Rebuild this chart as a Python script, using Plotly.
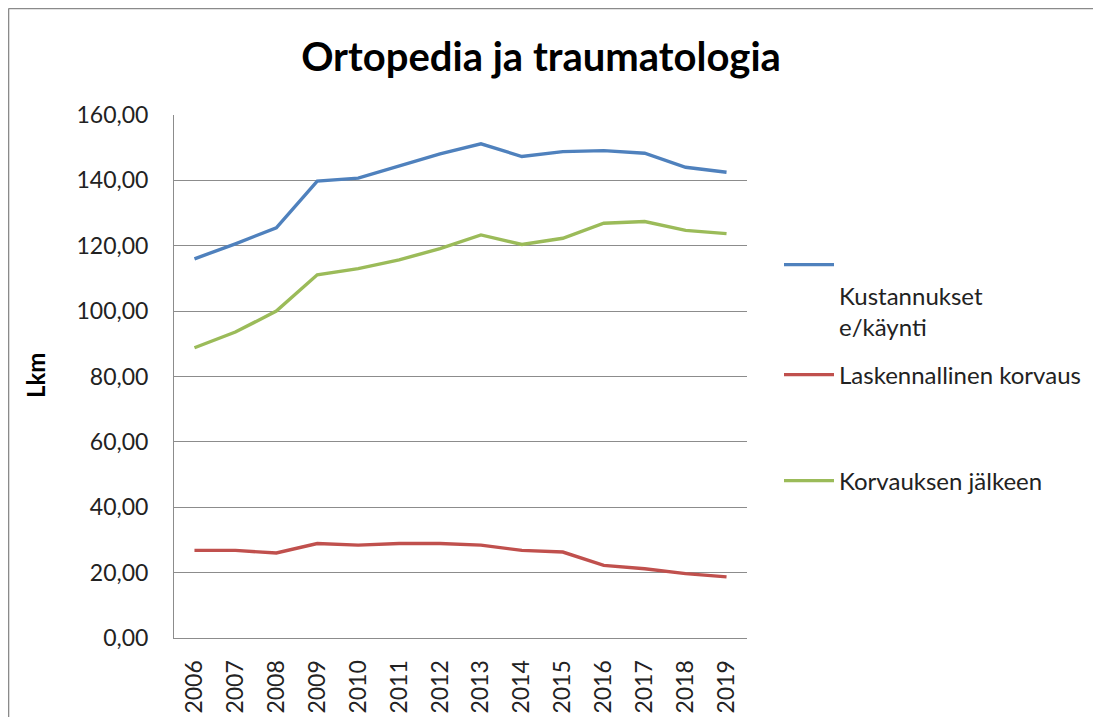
import plotly.graph_objects as go

years = [str(y) for y in range(2006, 2020)]
kustannukset = [116.0, 120.6, 125.5, 139.8, 140.7, 144.3, 148.1, 151.2, 147.3, 148.8, 149.1, 148.3, 144.0, 142.5]
laskennallinen = [26.8, 26.8, 26.0, 28.9, 28.4, 28.9, 28.9, 28.4, 26.8, 26.3, 22.2, 21.2, 19.7, 18.7]
jalkeen = [88.8, 93.6, 100.0, 111.1, 113.0, 115.7, 119.1, 123.3, 120.4, 122.3, 126.9, 127.4, 124.7, 123.7]

names = ["<br>Kustannukset<br>e/käynti", "Laskennallinen korvaus", "Korvauksen jälkeen"]
colors = ["#4F81BD", "#C0504D", "#9BBB59"]

# page body has an 8px margin; work in screenshot coordinates and shift
OFF = 8
W, H = 1101 - OFF, 717 - OFF
L, R, T, B = 174, 747, 115, 638   # plot area in screenshot coords
FONT = "Lato"

def px(xp):
    return (xp - L) / (R - L)

def py(yp):
    return (B - yp) / (B - T)

fig = go.Figure()
series = [kustannukset, laskennallinen, jalkeen]
legends = ["legend", "legend2", "legend3"]
for s, n, c, lg in zip(series, names, colors, legends):
    fig.add_trace(go.Scatter(x=years, y=s, name=n, mode="lines",
                             line=dict(color=c, width=3.4), legend=lg))

leg_common = dict(font=dict(family=FONT, size=24, color="#222"), bgcolor="rgba(0,0,0,0)",
                  xanchor="left", yanchor="middle", itemwidth=50, valign="top")
fig.update_layout(
    width=W, height=H,
    margin=dict(l=L - OFF, r=W - (R - OFF), t=T - OFF, b=H - (B - OFF), autoexpand=False),
    paper_bgcolor="white", plot_bgcolor="white",
    separators=",.",
    title=dict(text="<b>Ortopedia ja traumatologia</b>", x=(541 - OFF) / W, xanchor="center",
               y=1 - (57 - OFF) / H, yanchor="middle", yref="container", xref="container",
               font=dict(family=FONT, size=40, color="#000")),
    legend=dict(x=px(779), y=py(296), **leg_common),
    legend2=dict(x=px(779), y=py(375), **leg_common),
    legend3=dict(x=px(779), y=py(481), **leg_common),
    xaxis=dict(type="category", range=[-0.5, 13.5], showgrid=False, showline=True,
               linecolor="#8c8c8c", linewidth=1, automargin=False,
               tickangle=-90, ticks="", ticklabelstandoff=12,
               tickfont=dict(family=FONT, size=23, color="#222"), fixedrange=True),
    yaxis=dict(range=[0, 160], dtick=20, tickformat=".2f", showgrid=True, gridcolor="#8c8c8c",
               gridwidth=1, showline=True, linecolor="#8c8c8c", linewidth=1, zeroline=False,
               ticks="", ticklabelstandoff=20, automargin=False,
               tickfont=dict(family=FONT, size=23, color="#222"), fixedrange=True),
    showlegend=True,
)

fig.add_annotation(text="<b>Lkm</b>", x=px(35), y=py(376), xref="paper", yref="paper",
                   xanchor="center", yanchor="middle",
                   textangle=-90, showarrow=False, font=dict(family=FONT, size=24, color="#000"))

# outer chart border (top and left visible)
fig.add_shape(type="line", xref="paper", yref="paper", x0=px(OFF + 0.5), x1=px(1101), y0=py(OFF + 0.5), y1=py(OFF + 0.5),
              line=dict(color="#8a8a8a", width=1.6))
fig.add_shape(type="line", xref="paper", yref="paper", x0=px(OFF + 0.5), x1=px(OFF + 0.5), y0=py(OFF + 0.5), y1=py(717),
              line=dict(color="#8a8a8a", width=1.6))

fig.write_html("out.html")
